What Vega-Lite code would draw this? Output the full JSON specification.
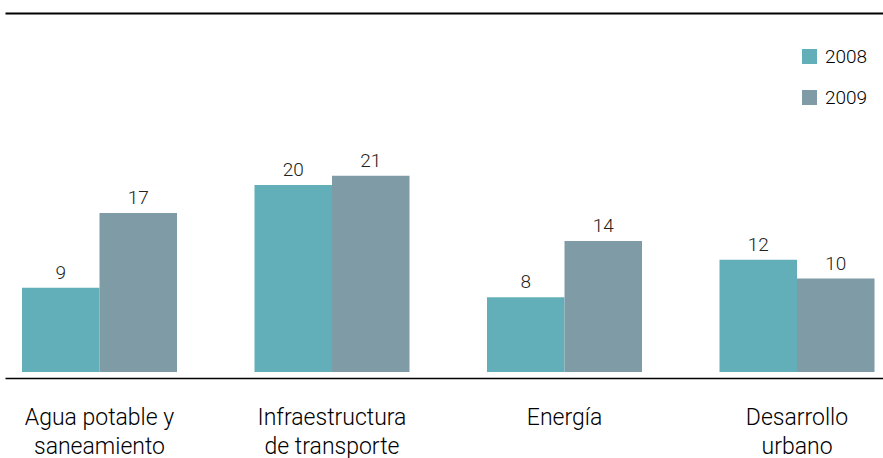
{
  "$schema": "https://vega.github.io/schema/vega-lite/v6.json",
  "width": 878,
  "height": 359,
  "autosize": {"type": "none"},
  "padding": {"left": 5, "top": 13, "right": 0, "bottom": 86},
  "config": {"view": {"stroke": null}, "font": "Roboto"},
  "data": {
    "values": [
      {"sector": "Agua potable y saneamiento", "year": "2008", "value": 9},
      {"sector": "Agua potable y saneamiento", "year": "2009", "value": 17},
      {"sector": "Infraestructura de transporte", "year": "2008", "value": 20},
      {"sector": "Infraestructura de transporte", "year": "2009", "value": 21},
      {"sector": "Energía", "year": "2008", "value": 8},
      {"sector": "Energía", "year": "2009", "value": 14},
      {"sector": "Desarrollo urbano", "year": "2008", "value": 12},
      {"sector": "Desarrollo urbano", "year": "2009", "value": 10}
    ]
  },
  "encoding": {
    "x": {
      "field": "sector",
      "type": "nominal",
      "sort": ["Agua potable y saneamiento", "Infraestructura de transporte", "Energía", "Desarrollo urbano"],
      "scale": {"paddingInner": 0.3333, "paddingOuter": 0.0548, "align": 0.667}
    },
    "xOffset": {"field": "year", "type": "nominal", "scale": {"paddingInner": 0, "paddingOuter": 0}},
    "y": {"field": "value", "type": "quantitative", "scale": {"domain": [0, 38.4], "nice": false, "zero": true}, "axis": null}
  },
  "layer": [
    {
      "mark": {"type": "bar"},
      "encoding": {
        "x": {
          "field": "sector",
          "type": "nominal",
          "sort": ["Agua potable y saneamiento", "Infraestructura de transporte", "Energía", "Desarrollo urbano"],
          "axis": {
            "orient": "bottom",
            "title": null,
            "offset": 6,
            "ticks": false,
            "domainColor": "#000000",
            "domainWidth": 1.5,
            "labelAngle": 0,
            "labelFont": "Roboto",
            "labelFontSize": 23,
            "labelFontWeight": 300,
            "labelColor": "#000000",
            "labelPadding": 28,
            "labelLineHeight": 29,
            "labelExpr": "datum.value == 'Agua potable y saneamiento' ? ['Agua potable y', 'saneamiento'] : datum.value == 'Infraestructura de transporte' ? ['Infraestructura', 'de transporte'] : datum.value == 'Desarrollo urbano' ? ['Desarrollo', 'urbano'] : datum.value"
          }
        },
        "color": {
          "field": "year",
          "type": "nominal",
          "scale": {"domain": ["2008", "2009"], "range": ["#62afba", "#7f9ba6"]},
          "legend": {
            "title": null,
            "orient": "none",
            "legendX": 795,
            "legendY": 34,
            "symbolType": "square",
            "symbolSize": 225,
            "symbolStrokeWidth": 0,
            "symbolOpacity": 1,
            "labelFont": "Roboto",
            "labelFontSize": 19,
            "labelFontWeight": 300,
            "labelColor": "#000000",
            "labelOffset": 6,
            "rowPadding": 21
          }
        }
      }
    },
    {
      "mark": {"type": "text", "baseline": "alphabetic", "dy": -9, "fontSize": 19, "fontWeight": 300, "color": "#222222", "font": "Roboto"},
      "encoding": {
        "x": {
          "field": "sector",
          "type": "nominal",
          "sort": ["Agua potable y saneamiento", "Infraestructura de transporte", "Energía", "Desarrollo urbano"],
          "axis": {"orient": "top", "title": null, "labels": false, "ticks": false, "domainColor": "#000000", "domainWidth": 2}
        },
        "text": {"field": "value", "type": "quantitative"}
      }
    }
  ],
  "resolve": {"axis": {"x": "independent"}}
}
